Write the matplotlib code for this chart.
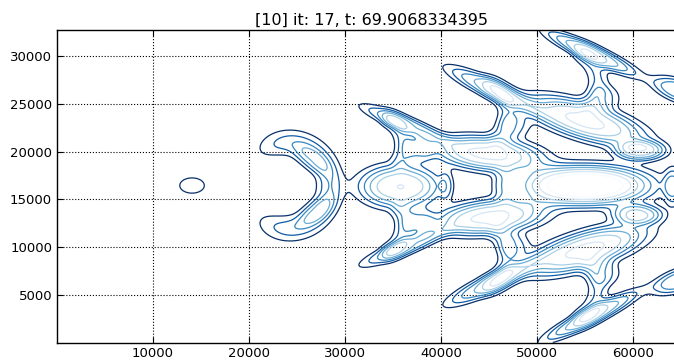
import matplotlib
matplotlib.use('Agg')
import matplotlib.pyplot as plt
import numpy as np

# curved arms ("C" shapes):
# centre of the gap they wrap, radius, half width, facing angle, half span, height
arc_x = [23970, 32820, 32820, 43440, 43440, 53040, 53040]
arc_y = [16460, 20630, 12300, 23970, 8960, 27300, 5620]
arc_r = [4480, 3330, 3330, 3540, 3540, 3330, 3330]
arc_w = [1350, 1000, 1000, 1100, 1100, 1100, 1100]
arc_dir = [0, 15, -15, 10, -10, 10, -10]
arc_span = [125, 55, 55, 65, 65, 65, 65]
arc_amp = [0.3, 0.24, 0.24, 0.22, 0.22, 0.22, 0.22]

# blobs and bands: centre, half size along/across, tilt (deg), height
blob_x = [14070, 26570, 26990,
          36250, 36250, 35740, 37830, 37830,
          45330, 45330, 44910, 45120, 46680, 40530, 47720, 47720,
          55740, 55740, 55020, 55020, 55020, 57100, 57100,
          64920, 60750, 60440, 64190, 64920]
blob_y = [16460, 19170, 13750,
          22920, 10000, 16360, 20320, 12610,
          26570, 6250, 19800, 13130, 16460, 16460, 22710, 10210,
          30320, 2810, 23240, 16460, 9690, 25630, 7300,
          26360, 20110, 13440, 16360, 6560]
blob_sx = [2000, 2080, 2080,
           4690, 4690, 4200, 1600, 1600,
           5000, 5000, 5730, 5730, 1250, 730, 1600, 1600,
           5200, 5400, 6460, 6770, 6460, 1600, 1600,
           3000, 2600, 2600, 1000, 3000]
blob_sy = [1250, 1040, 1040,
           850, 850, 2200, 1500, 1500,
           1000, 1000, 1770, 1770, 1880, 1670, 1300, 1300,
           900, 900, 1880, 2080, 1880, 1300, 1300,
           1150, 1040, 1040, 2000, 1150]
blob_ang = [0, -35, 35,
            -22, 22, 0, 0, 0,
            -25, 25, -6, 6, 0, 0, 0, 0,
            -25, 27, -17, 0, 17, 0, 0,
            -20, 0, 0, 0, 20]
blob_amp = [0.13, 0.2, 0.2,
            0.38, 0.38, 0.6, 0.25, 0.25,
            0.42, 0.42, 0.62, 0.62, 0.2, 0.17, 0.2, 0.2,
            0.48, 0.48, 0.62, 0.85, 0.62, 0.2, 0.2,
            0.4, 0.5, 0.5, 0.3, 0.4]

levels = [0.1, 0.2, 0.3, 0.4, 0.5, 0.6, 0.7]
xticks = [10000, 20000, 30000, 40000, 50000, 60000]
yticks = [5000, 10000, 15000, 20000, 25000, 30000]
title = '[10] it: 17, t: 69.9068334395'

x = np.linspace(0, 65536, 520)
y = np.linspace(0, 32768, 260)
X, Y = np.meshgrid(x, y)
Z = np.zeros_like(X)

for i in range(len(arc_x)):
    dx = X - arc_x[i]
    dy = Y - arc_y[i]
    d = np.hypot(dx, dy)
    th = np.degrees(np.arctan2(dy, dx)) - arc_dir[i]
    th = (th + 180) % 360 - 180
    win = np.exp(-(th / arc_span[i])**6)
    Z += arc_amp[i] * np.exp(-((d - arc_r[i]) / arc_w[i])**2) * win

for i in range(len(blob_x)):
    a = np.radians(blob_ang[i])
    dx = X - blob_x[i]
    dy = Y - blob_y[i]
    u = dx * np.cos(a) + dy * np.sin(a)
    v = -dx * np.sin(a) + dy * np.cos(a)
    q = (u / blob_sx[i])**2 + (v / blob_sy[i])**2
    Z += blob_amp[i] * np.exp(-q**1.5)

fig = plt.figure(figsize=(6.74, 3.62), dpi=100)
ax = fig.add_axes([57/674, 19.5/362, 629/674, 312.5/362])
ax.contour(X, Y, Z, levels=levels, cmap='Blues_r', linewidths=0.9)

ax.set_xlim(0, 65536)
ax.set_ylim(0, 32768)
ax.set_xticks(xticks)
ax.set_yticks(yticks)
ax.grid(True, color='black', linestyle=':', linewidth=0.8)
ax.tick_params(direction='in', top=True, right=True, labelsize=9.5, length=4)
for s in ax.spines.values():
    s.set_linewidth(1.0)
ax.set_title(title, fontsize=11.5, pad=4)

fig.savefig('out.png', dpi=100)
